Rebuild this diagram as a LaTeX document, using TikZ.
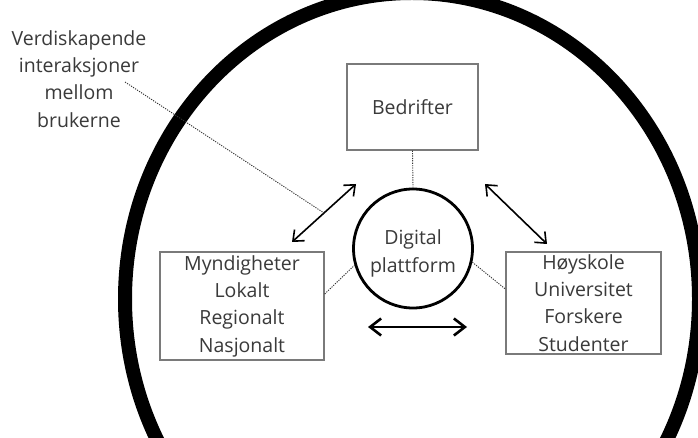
\documentclass[tikz,border=0pt]{standalone}
\usepackage{fontspec}
\setmainfont{Open Sans}
\usetikzlibrary{arrows.meta,calc}
\definecolor{txt}{HTML}{3A3A3A}
\definecolor{boxline}{HTML}{7A7A7A}
\begin{document}
\begin{tikzpicture}[x=1pt,y=-1pt,
  font=\fontsize{19.5}{27.3}\selectfont,
  box/.style={draw=boxline, line width=1.3pt, text=txt, align=center, inner sep=0pt},
  platform/.style={circle, draw=black, line width=2.8pt, inner sep=0pt, minimum size=119pt},
  lbl/.style={text=txt, align=center, inner sep=0pt},
  dotline/.style={draw=black!80, line width=0.9pt, dash pattern=on 1.2pt off 1.2pt},
  arr/.style={draw=black, line width=1.6pt, {Straight Barb[length=9pt,width=15pt]}-{Straight Barb[length=9pt,width=15pt]}},
  arrbig/.style={draw=black, line width=2.6pt, {Straight Barb[length=11pt,width=17pt]}-{Straight Barb[length=11pt,width=17pt]}},
  ring/.style={draw=black, line width=14pt}]
\useasboundingbox (0,0) rectangle (698,438);
\fill[white] (0,0) rectangle (698,438);
\begin{scope}
  \clip (0,0) rectangle (698,438);
  \draw[ring] (412,299) ellipse [x radius=287pt, y radius=306pt];
\end{scope}

\node[box, minimum width=131pt, minimum height=86pt] (bed) at (412.5,107) {Bedrifter};
\node[platform] (dp) at (413,248.5) {};
\node[lbl, font=\fontsize{19.5}{28}\selectfont] (dptext) at (413,253) {Digital\\plattform};
\node[box, minimum width=164pt, minimum height=108pt] (myn) at (242,306) {Myndigheter\\Lokalt\\Regionalt\\Nasjonalt};
\node[box, minimum width=155pt, minimum height=102pt] (hoy) at (583.5,303) {Høyskole\\Universitet\\Forskere\\Studenter};
\node[lbl] (lab) at (79,79) {Verdiskapende\\interaksjoner\\mellom\\brukerne};

\coordinate (l1) at (292,242);
\coordinate (l2) at (356,184);
\coordinate (r1) at (485,184);
\coordinate (r2) at (547,244);
\coordinate (h1) at (368,327);
\coordinate (h2) at (467,327);
\coordinate (lp) at (125,82);

\draw[arr] (l1) -- (l2);
\draw[arr] (r1) -- (r2);
\draw[arrbig] (h1) -- (h2);

\draw[dotline] (bed.south) -- (dp.north);
\draw[dotline] ([yshift=12pt]myn.east) -- (dp.196);
\draw[dotline] (dp.-13) -- ([yshift=14pt]hoy.west);
\draw[dotline] (lp) -- ($(l1)!0.5!(l2)$);
\end{tikzpicture}
\end{document}
